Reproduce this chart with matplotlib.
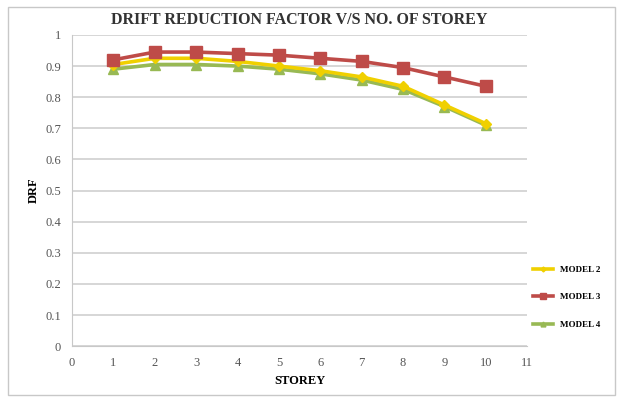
import matplotlib
matplotlib.use("Agg")
import matplotlib.pyplot as plt
from matplotlib.patches import Rectangle

# storey numbers and drift reduction factor per model
storey = [1, 2, 3, 4, 5, 6, 7, 8, 9, 10]
model2 = [0.905, 0.925, 0.925, 0.915, 0.900, 0.885, 0.865, 0.835, 0.775, 0.715]
model3 = [0.920, 0.945, 0.945, 0.940, 0.935, 0.925, 0.915, 0.895, 0.865, 0.835]
model4 = [0.890, 0.905, 0.905, 0.900, 0.890, 0.875, 0.855, 0.825, 0.770, 0.710]
series_names = ["MODEL 2", "MODEL 3", "MODEL 4"]

serif = ["Liberation Serif", "DejaVu Serif"]

fig = plt.figure(figsize=(6.21, 3.97), dpi=100)
ax = fig.add_axes([0.116, 0.128, 0.733, 0.784])

# outer chart frame
fig.patches.append(Rectangle((0.013, 0.005), 0.978, 0.977, transform=fig.transFigure,
                             fill=False, edgecolor="#c8c8c8", linewidth=1.0))

ax.plot(storey, model2, color="#f0d000", lw=2.6, marker="D", ms=5,
        mfc="#f0d000", mec="#f0d000", label=series_names[0], zorder=3)
ax.plot(storey, model3, color="#be4b48", lw=2.6, marker="s", ms=8,
        mfc="#be4b48", mec="#be4b48", label=series_names[1], zorder=4)
ax.plot(storey, model4, color="#98b954", lw=2.6, marker="^", ms=7,
        mfc="#98b954", mec="#98b954", label=series_names[2], zorder=2)

ax.set_xlim(0, 11)
ax.set_ylim(0, 1)
ax.set_xticks(range(0, 12))
ax.set_yticks([i / 10 for i in range(11)])
ax.set_yticklabels(["0", "0.1", "0.2", "0.3", "0.4", "0.5", "0.6", "0.7", "0.8", "0.9", "1"])
ax.grid(axis="y", color="#d0d0d0", lw=1.2)
ax.set_axisbelow(True)
for s in ["top", "right"]:
    ax.spines[s].set_visible(False)
ax.spines["left"].set_color("#c8c8c8")
ax.spines["bottom"].set_color("#c8c8c8")
ax.tick_params(length=0, labelsize=9, colors="#555555", pad=8)
for lab in ax.get_xticklabels() + ax.get_yticklabels():
    lab.set_family(serif)

ax.set_title("DRIFT REDUCTION FACTOR V/S NO. OF STOREY", family=serif,
             fontsize=11.5, fontweight="bold", color="#333333", pad=8)
ax.set_xlabel("STOREY", family=serif, fontsize=9, fontweight="bold", labelpad=4)
ax.set_ylabel("DRF", family=serif, fontsize=9, fontweight="bold", labelpad=4)

leg = ax.legend(loc="center left", bbox_to_anchor=(0.995, 0.157), frameon=False,
                prop={"family": serif, "size": 6.5, "weight": "bold"},
                handlelength=2.2, labelspacing=2.1, markerscale=0.5)

fig.savefig("out.png", dpi=100)
